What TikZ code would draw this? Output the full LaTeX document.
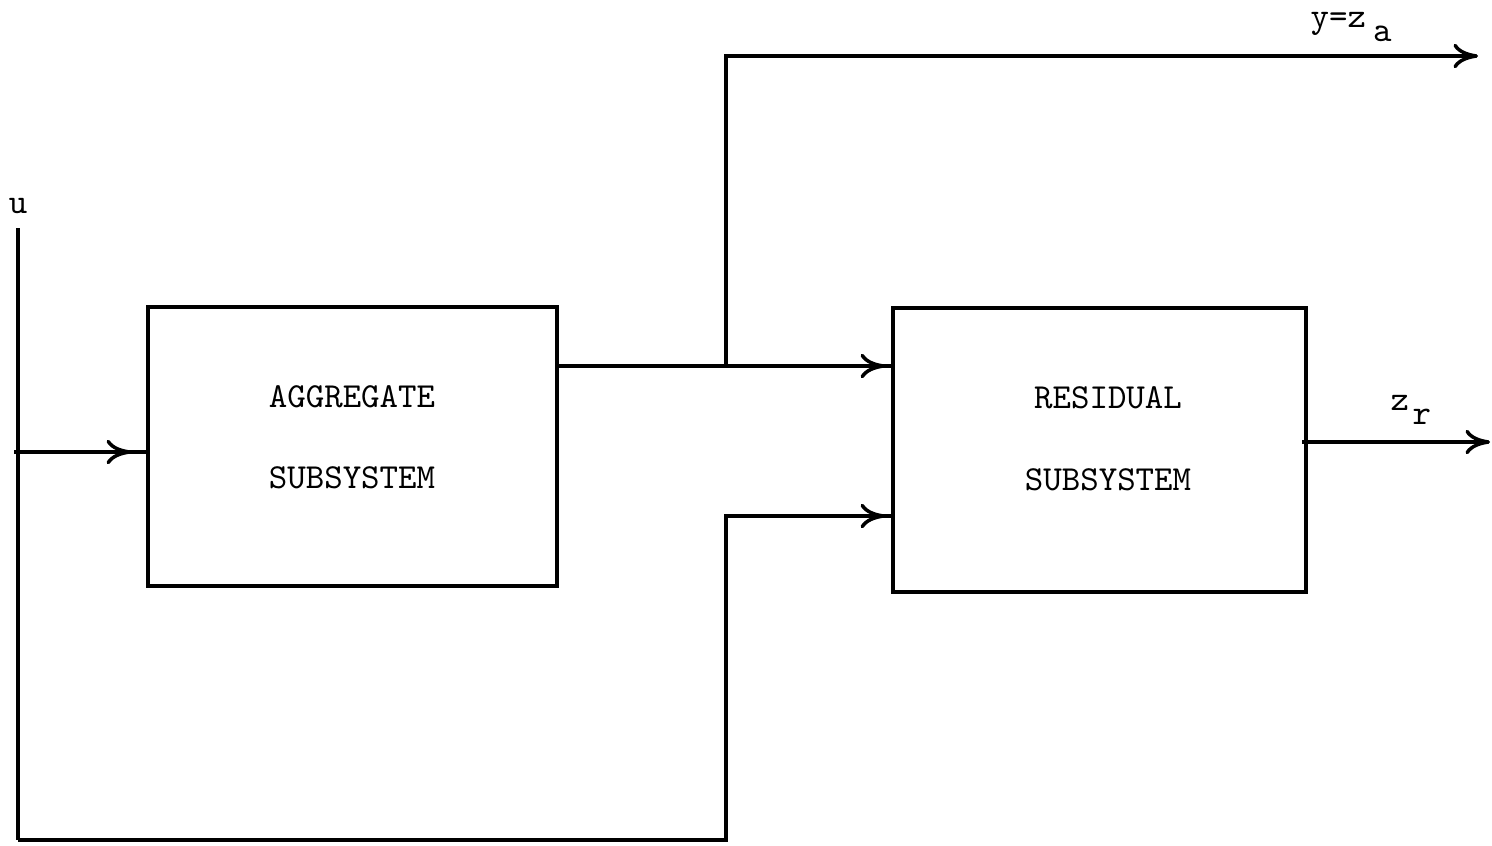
\documentclass[tikz,border=0pt]{standalone}
\usetikzlibrary{arrows.meta,decorations.markings}
\begin{document}
\begin{tikzpicture}[x=0.01cm,y=-0.01cm,
  wire/.style={line width=1pt},
  tipstyle/.style={-{Computer Modern Rightarrow[length=7pt,width=7pt,line width=1pt]}},
  midarrow/.style={wire,postaction={decorate},
    decoration={markings,mark=at position #1 with {\arrow{Computer Modern Rightarrow[length=7pt,width=7pt,line width=1pt]}}}},
  blk/.style={draw,line width=1pt,inner sep=0pt},
  lbl/.style={font=\ttfamily\fontsize{10}{12}\selectfont,inner sep=0pt},
  sig/.style={font=\ttfamily\fontsize{10}{12}\selectfont,inner sep=0pt}]
\useasboundingbox (0,0) rectangle (1492,845);

% subsystem blocks
\node[blk,minimum width=4.09cm,minimum height=2.79cm] (agg) at (352.5,446.5) {};
\node[blk,minimum width=4.13cm,minimum height=2.84cm] (res) at (1099.5,450) {};
\node[lbl] (aggA) at (352,397) {AGGREGATE};
\node[lbl] (aggB) at (352,478) {SUBSYSTEM};
\node[lbl] (resA) at (1108,398) {RESIDUAL};
\node[lbl] (resB) at (1108,480) {SUBSYSTEM};

% input line u
\coordinate (utop) at (18,228);
\coordinate (ubot) at (18,840);
\coordinate (uin) at (14,452);
\node[sig,anchor=base] (ulab) at (18,213) {u};
\draw[wire] (utop) -- (ubot);
\draw[midarrow=-0.15cm] (uin) -- (agg.west |- uin);

% aggregate output, branching to y = z_a
\coordinate (split) at (726,366);
\coordinate (ytop) at (726,56);
\coordinate (yend) at (1478,56);
\draw[midarrow=-0.06cm] (agg.east |- split) -- (res.west |- split);
\draw[wire,tipstyle] (split) -- (ytop) -- (yend);
\node[sig,anchor=base west] (ylab) at (1310,27) {y=z\raisebox{-4.2pt}{\hspace{2pt}a}};

% u fed forward to the residual subsystem
\coordinate (lowturn) at (726,516);
\draw[midarrow=-0.06cm] (ubot) -| (lowturn) -- (res.west |- lowturn);

% residual output z_r
\coordinate (zin) at (1302,442);
\coordinate (zend) at (1490,442);
\draw[wire,tipstyle] (zin) -- (zend);
\node[sig,anchor=base west] (zlab) at (1390,410) {z\raisebox{-4.2pt}{\hspace{1pt}r}};
\end{tikzpicture}
\end{document}
